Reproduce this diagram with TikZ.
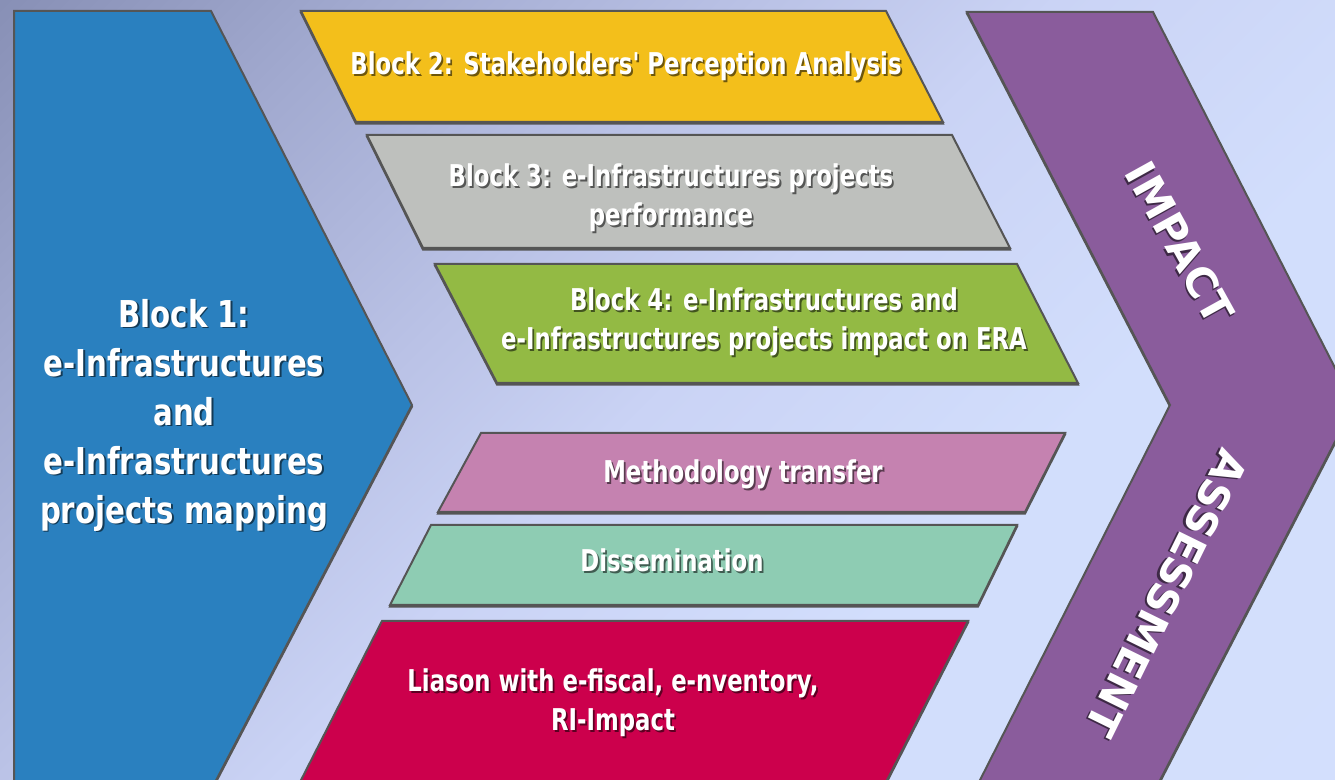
\documentclass[tikz,border=0pt]{standalone}
\usepackage{fontspec}
\newfontfamily\famBox[FakeStretch=0.76]{DejaVu Sans}
\newfontfamily\famBig[FakeStretch=0.79]{DejaVu Sans}
\newfontfamily\famArr{DejaVu Sans}
\definecolor{bgA}{RGB}{136,144,182}
\definecolor{bgB}{RGB}{162,170,208}
\definecolor{bgC}{RGB}{186,194,230}
\definecolor{bgD}{RGB}{202,211,245}
\definecolor{bgE}{RGB}{210,222,252}
\definecolor{bgF}{RGB}{212,224,253}
\definecolor{bordc}{RGB}{85,85,85}
\definecolor{cblue}{RGB}{42,128,191}
\definecolor{cyel}{RGB}{243,191,27}
\definecolor{cgray}{RGB}{190,192,189}
\definecolor{cgreen}{RGB}{147,186,68}
\definecolor{cpink}{RGB}{197,130,176}
\definecolor{cteal}{RGB}{142,204,179}
\definecolor{cred}{RGB}{204,0,76}
\definecolor{cpurp}{RGB}{138,92,156}
\pgfdeclarehorizontalshading{bgsh}{100bp}{color(0bp)=(bgA); color(14.6bp)=(bgA); color(27bp)=(bgB); color(40bp)=(bgC); color(50bp)=(bgD); color(65bp)=(bgE); color(100bp)=(bgF)}
\newcommand\shtx[2]{\leavevmode\rlap{\kern0.9pt\raisebox{-0.9pt}{\textcolor{#1}{#2}}}#2}
\newcommand\fntBox{\famBox\bfseries\fontsize{15}{19.5}\selectfont}
\newcommand\fntBig{\famBig\bfseries\fontsize{18.5}{24.5}\selectfont}
\newcommand\fntArr{\famArr\bfseries\fontsize{21}{25}\selectfont}
\tikzset{
  blk/.style={fill=#1, draw=bordc, line width=1pt, line join=miter,
    preaction={draw=bordc, line width=1pt, transform canvas={yshift=-0.8pt}}},
  boxtxt/.style={text=white, font=\fntBox, align=center, inner sep=0pt},
  bigtxt/.style={text=white, font=\fntBig, align=center, inner sep=0pt},
  arrtxt/.style={text=white, font=\fntArr, inner sep=0pt},
}
\begin{document}
\begin{tikzpicture}[x=0.5pt, y=-0.5pt]
\useasboundingbox (0,0) rectangle (1335,780);
\clip (0,0) rectangle (1335,780);
\shade[shading=bgsh, shading angle=-45] (0,0) rectangle (1335,780);
% big chevrons
\draw[blk=cblue] (14,11) -- (211,11) -- (412,405) -- (211,790) -- (14,790) -- cycle;
\draw[blk=cpurp] (967,12) -- (1153,12) -- (1354,405) -- (1155,790) -- (975,790) -- (1170,405) -- cycle;
% blocks
\draw[blk=cyel]   (301,11) -- (886,11) -- (943,122) -- (356,122) -- cycle;
\draw[blk=cgray]  (367,135) -- (952,135) -- (1010,248) -- (423,248) -- cycle;
\draw[blk=cgreen] (435,264) -- (1017,264) -- (1078,383) -- (497,383) -- cycle;
\draw[blk=cpink]  (481,433) -- (1065,433) -- (1025,512) -- (438,512) -- cycle;
\draw[blk=cteal]  (431,525) -- (1017,525) -- (978,605) -- (390,605) -- cycle;
\draw[blk=cred]   (382,621) -- (968,621) -- (882,790) -- (296,790) -- cycle;
% texts
\node[bigtxt] (b1) at (184,416) {\shtx{cblue!45!black}{Block 1:}\\\shtx{cblue!45!black}{e-Infrastructures}\\\shtx{cblue!45!black}{and}\\\shtx{cblue!45!black}{e-Infrastructures}\\\shtx{cblue!45!black}{projects mapping}};
\node[boxtxt, anchor=base] (b2) at (626,75) {\shtx{cyel!45!black}{Block 2: Stakeholders' Perception Analysis}};
\node[boxtxt] (b3) at (671,199) {\shtx{cgray!45!black}{Block 3: e-Infrastructures projects}\\\shtx{cgray!45!black}{performance}};
\node[boxtxt] (b4) at (764,323) {\shtx{cgreen!45!black}{Block 4: e-Infrastructures and}\\\shtx{cgreen!45!black}{e-Infrastructures projects impact on ERA}};
\node[boxtxt, anchor=base] (mt) at (743,483) {\shtx{cpink!45!black}{Methodology transfer}};
\node[boxtxt, anchor=base] (ds) at (672,572) {\shtx{cteal!45!black}{Dissemination}};
\node[boxtxt] (li) at (613,704) {\shtx{cred!45!black}{Liason with e-fiscal, e-nventory,}\\\shtx{cred!45!black}{RI-Impact}};
\node[arrtxt, rotate=-61] (imp) at (1179,243) {\shtx{cpurp!45!black}{IMPACT}};
\node[arrtxt, rotate=-116.2] (ass) at (1166,593) {\shtx{cpurp!45!black}{ASSESSMENT}};
\end{tikzpicture}
\end{document}
